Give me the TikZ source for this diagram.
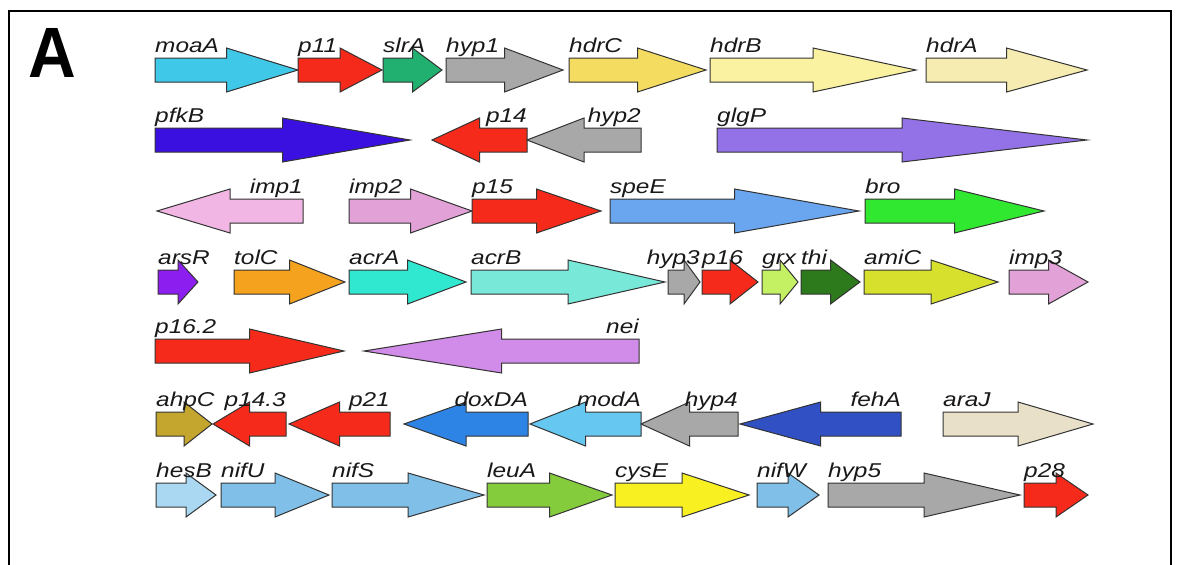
\documentclass[tikz,border=0pt]{standalone}
\usepackage{fontspec}
\newfontfamily\genefont[FakeStretch=1.22]{Liberation Sans}
\newfontfamily\panelfont{Liberation Sans}

\definecolor{moacol}{HTML}{40C8E8}
\definecolor{redcol}{HTML}{F52A1A}
\definecolor{slrcol}{HTML}{22B070}
\definecolor{hypcol}{HTML}{A8A8A8}
\definecolor{hdrCcol}{HTML}{F4DC60}
\definecolor{hdrBcol}{HTML}{FAF2A0}
\definecolor{hdrAcol}{HTML}{F6EBB0}
\definecolor{pfkcol}{HTML}{3A10E0}
\definecolor{glgcol}{HTML}{9272E6}
\definecolor{imp1col}{HTML}{F2B6E4}
\definecolor{imp2col}{HTML}{E2A2D8}
\definecolor{specol}{HTML}{6AA6F0}
\definecolor{brocol}{HTML}{30E830}
\definecolor{arscol}{HTML}{8C1EF0}
\definecolor{tolcol}{HTML}{F5A21E}
\definecolor{acrAcol}{HTML}{30E8D0}
\definecolor{acrBcol}{HTML}{78E8D8}
\definecolor{grxcol}{HTML}{C4F064}
\definecolor{thicol}{HTML}{2C7A1C}
\definecolor{amicol}{HTML}{D8E02E}
\definecolor{neicol}{HTML}{D08CE8}
\definecolor{ahpcol}{HTML}{C4A62E}
\definecolor{doxcol}{HTML}{2E84E4}
\definecolor{modcol}{HTML}{66C8F0}
\definecolor{fehcol}{HTML}{3050C4}
\definecolor{aracol}{HTML}{E8E0C8}
\definecolor{hescol}{HTML}{AAD8F2}
\definecolor{nifcol}{HTML}{80C0E8}
\definecolor{leucol}{HTML}{84CC3C}
\definecolor{cyscol}{HTML}{F8F020}

\tikzset{
  genebody/.style={draw=black!80, line width=1pt},
  genelabel/.style={font=\genefont\itshape\fontsize{20}{22}\selectfont, text=black!90, inner sep=0pt}
}

% name, left x, right x, row y, colour, label
\newcommand{\generight}[6]{%
  \filldraw[genebody, fill=#5] (#2,#4-12) -- ({(#2+#3)/2},#4-12) -- ({(#2+#3)/2},#4-22) -- (#3,#4) -- ({(#2+#3)/2},#4+22) -- ({(#2+#3)/2},#4+12) -- (#2,#4+12) -- cycle;
  \node[genelabel, anchor=base west] (#1) at (#2,#4-18) {#6};}
\newcommand{\generightR}[6]{%
  \filldraw[genebody, fill=#5] (#2,#4-12) -- ({(#2+#3)/2},#4-12) -- ({(#2+#3)/2},#4-22) -- (#3,#4) -- ({(#2+#3)/2},#4+22) -- ({(#2+#3)/2},#4+12) -- (#2,#4+12) -- cycle;
  \node[genelabel, anchor=base east] (#1) at (#3,#4-18) {#6};}
\newcommand{\geneleft}[6]{%
  \filldraw[genebody, fill=#5] (#3,#4-12) -- ({(#2+#3)/2},#4-12) -- ({(#2+#3)/2},#4-22) -- (#2,#4) -- ({(#2+#3)/2},#4+22) -- ({(#2+#3)/2},#4+12) -- (#3,#4+12) -- cycle;
  \node[genelabel, anchor=base east] (#1) at (#3,#4-18) {#6};}

\begin{document}
\begin{tikzpicture}[x=1pt, y=-1pt]
  \useasboundingbox (0,0) rectangle (1181,565);
  \fill[white] (0,0) rectangle (1181,565);
  \draw[line width=2.4pt] (9,566) -- (9,11) -- (1171,11) -- (1171,566);
  \node[font=\panelfont\bfseries\fontsize{66}{70}\selectfont, anchor=base west, inner sep=0pt, yscale=1.08] (panel) at (28,77) {A};

  \generight{moaA}{155}{298}{70}{moacol}{moaA}
  \generight{p11}{298}{382}{70}{redcol}{p11}
  \generight{slrA}{383}{442}{70}{slrcol}{slrA}
  \generight{hyp1}{446}{563}{70}{hypcol}{hyp1}
  \generight{hdrC}{569}{706}{70}{hdrCcol}{hdrC}
  \generight{hdrB}{710}{916}{70}{hdrBcol}{hdrB}
  \generight{hdrA}{926}{1087}{70}{hdrAcol}{hdrA}

  \generight{pfkB}{155}{410}{140}{pfkcol}{pfkB}
  \geneleft{p14}{432}{527}{140}{redcol}{p14}
  \geneleft{hyp2}{527}{641}{140}{hypcol}{hyp2}
  \generight{glgP}{717}{1087}{140}{glgcol}{glgP}

  \geneleft{imp1}{157}{303}{211}{imp1col}{imp1}
  \generight{imp2}{349}{472}{211}{imp2col}{imp2}
  \generight{p15}{472}{601}{211}{redcol}{p15}
  \generight{speE}{610}{859}{211}{specol}{speE}
  \generight{bro}{865}{1044}{211}{brocol}{bro}

  \generight{arsR}{158}{198}{282}{arscol}{arsR}
  \generight{tolC}{234}{345}{282}{tolcol}{tolC}
  \generight{acrA}{349}{466}{282}{acrAcol}{acrA}
  \generight{acrB}{471}{665}{282}{acrBcol}{acrB}
  \generightR{hyp3}{668}{700}{282}{hypcol}{hyp3}
  \generight{p16}{702}{758}{282}{redcol}{p16}
  \generight{grx}{762}{798}{282}{grxcol}{grx}
  \generight{thi}{801}{860}{282}{thicol}{thi}
  \generight{amiC}{864}{998}{282}{amicol}{amiC}
  \generight{imp3}{1009}{1088}{282}{imp2col}{imp3}

  \generight{p16b}{155}{344}{351}{redcol}{p16.2}
  \geneleft{nei}{364}{639}{351}{neicol}{nei}

  \generight{ahpC}{156}{212}{424}{ahpcol}{ahpC}
  \geneleft{p14c}{213}{286}{424}{redcol}{p14.3}
  \geneleft{p21}{289}{390}{424}{redcol}{p21}
  \geneleft{doxDA}{404}{528}{424}{doxcol}{doxDA}
  \geneleft{modA}{530}{641}{424}{modcol}{modA}
  \geneleft{hyp4}{641}{738}{424}{hypcol}{hyp4}
  \geneleft{fehA}{740}{901}{424}{fehcol}{fehA}
  \generight{araJ}{943}{1093}{424}{aracol}{araJ}

  \generight{hesB}{156}{216}{495}{hescol}{hesB}
  \generight{nifU}{221}{329}{495}{nifcol}{nifU}
  \generight{nifS}{332}{484}{495}{nifcol}{nifS}
  \generight{leuA}{487}{612}{495}{leucol}{leuA}
  \generight{cysE}{615}{749}{495}{cyscol}{cysE}
  \generight{nifW}{757}{819}{495}{nifcol}{nifW}
  \generight{hyp5}{828}{1020}{495}{hypcol}{hyp5}
  \generight{p28}{1024}{1088}{495}{redcol}{p28}
\end{tikzpicture}
\end{document}
